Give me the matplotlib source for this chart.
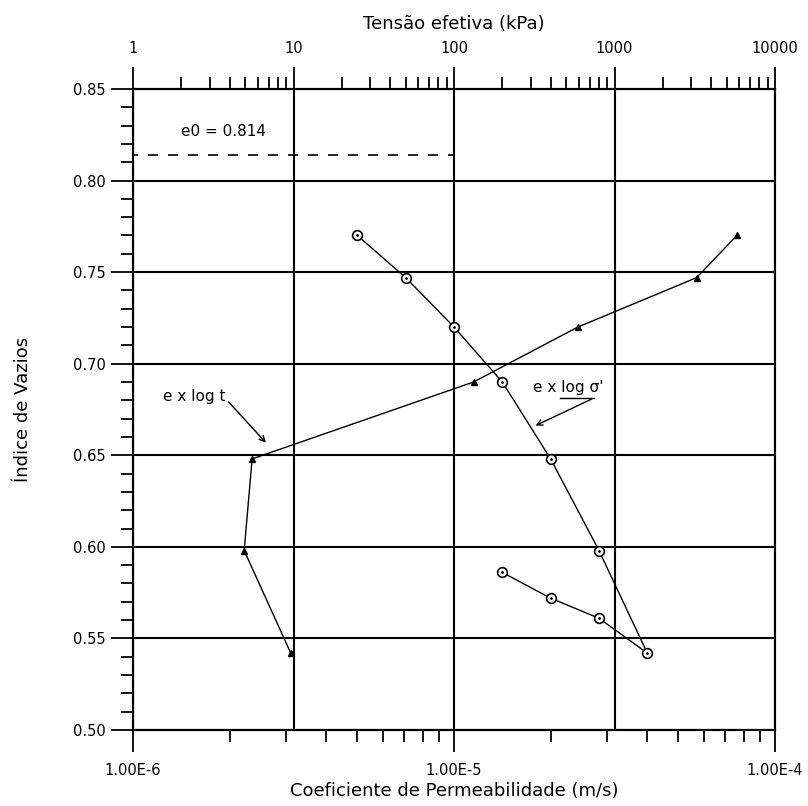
import matplotlib
matplotlib.use('Agg')
import matplotlib.pyplot as plt
from matplotlib.ticker import LogLocator, FixedLocator, MultipleLocator, FixedFormatter, NullFormatter, FormatStrFormatter

plt.rcParams['font.family'] = ['DejaVu Sans']

# ---- data ----
stress_load = [25, 50, 100, 200, 400, 800, 1600]          # kPa (top axis)
e_load = [0.770, 0.747, 0.720, 0.690, 0.648, 0.598, 0.542]
stress_unload = [1600, 800, 400, 200]
e_unload = [0.542, 0.561, 0.572, 0.586]
perm_k = [7.6e-5, 5.7e-5, 2.43e-5, 1.15e-5, 2.35e-6, 2.22e-6, 3.1e-6]  # m/s (bottom axis)
e_perm = [0.770, 0.747, 0.720, 0.690, 0.648, 0.598, 0.542]
e0 = 0.814
e0_x_end = 1e-5

bottom_ticks = [1e-6, 1e-5, 1e-4]
bottom_labels = ['1.00E-6', '1.00E-5', '1.00E-4']
top_ticks = [1, 10, 100, 1000, 10000]
top_labels = ['1', '10', '100', '1000', '10000']
y_ticks = [0.50, 0.55, 0.60, 0.65, 0.70, 0.75, 0.80, 0.85]

# ---- figure ----
fig = plt.figure(figsize=(8.08, 8.06), dpi=100)
ax = fig.add_axes([0.1646, 0.0943, 0.7946, 0.7953])
ax.set_xscale('log')
ax.set_xlim(1e-6, 1e-4)
ax.set_ylim(0.50, 0.85)
ax2 = ax.twiny()
ax2.set_xscale('log')
ax2.set_xlim(1, 10000)

MAJ = 15.8
MIN = 8.6
LW = 1.5
TICK_FS = 10.5
ANN_FS = 11

for a in (ax, ax2):
    for s in a.spines.values():
        s.set_linewidth(LW)
        s.set_color('black')

# bottom axis
ax.xaxis.set_major_locator(FixedLocator(bottom_ticks))
ax.xaxis.set_major_formatter(FixedFormatter(bottom_labels))
ax.xaxis.set_minor_locator(LogLocator(base=10, subs=range(2, 10)))
ax.xaxis.set_minor_formatter(NullFormatter())
ax.tick_params(axis='x', which='major', direction='out', length=MAJ, width=1.3, pad=8, labelsize=TICK_FS, top=False)
ax.tick_params(axis='x', which='minor', direction='out', length=MIN, width=1.3, top=False)

# left axis
ax.yaxis.set_major_locator(FixedLocator(y_ticks))
ax.yaxis.set_major_formatter(FormatStrFormatter('%.2f'))
ax.yaxis.set_minor_locator(MultipleLocator(0.01))
ax.tick_params(axis='y', which='major', direction='out', length=MAJ, width=1.3, pad=4, labelsize=TICK_FS, right=False)
ax.tick_params(axis='y', which='minor', direction='out', length=MIN, width=1.3, right=False)

# top axis
ax2.xaxis.set_major_locator(FixedLocator(top_ticks))
ax2.xaxis.set_major_formatter(FixedFormatter(top_labels))
ax2.xaxis.set_minor_locator(LogLocator(base=10, subs=range(2, 10)))
ax2.xaxis.set_minor_formatter(NullFormatter())
ax2.tick_params(axis='x', which='major', direction='out', length=MAJ, width=1.3, pad=8, labelsize=TICK_FS)
ax2.tick_params(axis='x', which='minor', direction='out', length=MIN, width=1.3)

# grid
ax.yaxis.grid(True, which='major', color='black', linewidth=LW)
ax2.xaxis.grid(True, which='major', color='black', linewidth=LW)
ax.set_axisbelow(True)

# e0 dashed line
ax.hlines(e0, bottom_ticks[0], e0_x_end, colors='black', linestyles=(3, (6, 6)), linewidth=1.2)
ax.text(0.074, 0.933, 'e0 = %.3f' % e0, transform=ax.transAxes, fontsize=ANN_FS, ha='left', va='center')

# e x log k (bottom axis)
ax.plot(perm_k, e_perm, color='black', linewidth=1.0, marker='^', markersize=5, zorder=5)

# e x log sigma' (top axis)
ax2.plot(stress_load, e_load, color='black', linewidth=1.0, zorder=5)
ax2.plot(stress_unload, e_unload, color='black', linewidth=1.0, zorder=5)
ax2.plot(stress_load + stress_unload[1:], e_load + e_unload[1:], linestyle='none', marker='o',
         markersize=7, markerfacecolor='white', markeredgecolor='black', markeredgewidth=1.2, zorder=6)
ax2.plot(stress_load + stress_unload[1:], e_load + e_unload[1:], linestyle='none', marker='.',
         markersize=2, color='black', zorder=7)

# annotations
ax.text(0.047, 0.5195, 'e x log t', transform=ax.transAxes, fontsize=ANN_FS, ha='left', va='center')
ax.annotate('', xy=(0.210, 0.445), xycoords='axes fraction', xytext=(0.146, 0.515), textcoords='axes fraction',
            arrowprops=dict(arrowstyle='->', color='black', lw=1.0))
ax.text(0.623, 0.535, "e x log σ'", transform=ax.transAxes, fontsize=ANN_FS, ha='left', va='center')
ax.plot([0.665, 0.718], [0.518, 0.518], transform=ax.transAxes, color='black', linewidth=1.0)
ax.annotate('', xy=(0.623, 0.473), xycoords='axes fraction', xytext=(0.718, 0.518), textcoords='axes fraction',
            arrowprops=dict(arrowstyle='->', color='black', lw=1.0))

# labels
ax.set_xlabel('Coeficiente de Permeabilidade (m/s)', fontsize=13)
ax.xaxis.set_label_coords(0.5, -0.0805)
ax2.set_xlabel('Tensão efetiva (kPa)', fontsize=13)
ax2.xaxis.set_label_coords(0.5, 1.094)
ax.set_ylabel('Índice de Vazios', fontsize=13)
ax.yaxis.set_label_coords(-0.158, 0.5)

fig.savefig('out.png', dpi=100)
